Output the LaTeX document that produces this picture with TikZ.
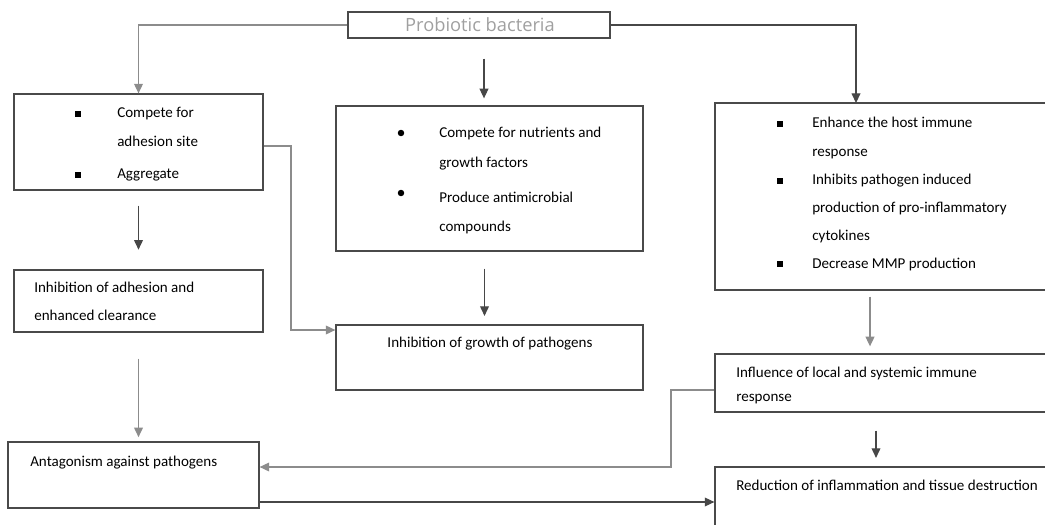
\documentclass[tikz,border=0pt]{standalone}
\usepackage{fontspec}
\setmainfont{Carlito}
\newfontfamily\titlefont{Open Sans}
\usetikzlibrary{
  arrows.meta,
  positioning,
  fit,
  calc,
}
\definecolor{frameGray}{HTML}{4A4A4A}
\definecolor{linkGray}{HTML}{8C8C8C}
\definecolor{titleGray}{HTML}{A0A0A0}
\tikzset{
  stepbox/.style={
    rectangle, draw=frameGray, line width=0.9pt, inner sep=0pt,
  },
  titlebox/.style={
    stepbox, font=\titlefont\fontsize{13}{15}\selectfont, text=titleGray,
  },
  itemtext/.style={
    anchor=base west, inner sep=0pt, font=\fontsize{10.7}{12}\selectfont,
  },
  sqbullet/.style={
    rectangle, fill=black, inner sep=0pt, minimum size=3.6pt,
  },
  rdbullet/.style={
    circle, fill=black, inner sep=0pt, minimum size=4.6pt,
  },
  arrowDark/.style={
    -{Triangle[length=2.4mm,width=2.2mm]}, line width=0.8pt, draw=black!72,
  },
  arrowGray/.style={
    -{Triangle[length=2.4mm,width=2.2mm]}, line width=0.9pt, draw=linkGray,
  },
}

\begin{document}
\begin{tikzpicture}[x=0.025cm, y=-0.025cm]

\useasboundingbox (0,0) rectangle (1045,525);
\clip (0,0) rectangle (1045,525);

% boxes (pixel grid of the figure)
\node[titlebox, fit={(348,12) (610,38)}] (probio) {};
\node[titlebox, draw=none, anchor=base] (probioText) at (480,32) {Probiotic bacteria};
\node[stepbox, fit={(14,94) (263,190)}] (adh) {};
\node[stepbox, fit={(336,106) (643,251)}] (nutr) {};
\node[stepbox, fit={(715,103) (1055,290)}] (host) {};
\node[stepbox, fit={(14,270) (263,332)}] (inhad) {};
\node[stepbox, fit={(336,325) (643,390)}] (growth) {};
\node[stepbox, fit={(715,354) (1055,412)}] (influ) {};
\node[stepbox, fit={(8,442) (259,508)}] (antag) {};
\node[stepbox, fit={(715,467) (1055,535)}] (reduc) {};

% bullet lists
\node[sqbullet] (adhB1) at (78,114) {};
\node[sqbullet] (adhB2) at (78,175) {};
\foreach \txt/\yy [count=\k] in {Compete for/118, adhesion site/147, Aggregate/179}
  \node[itemtext] (adh\k) at (117,\yy) {\txt};

\node[rdbullet] (nutrB1) at (401,133) {};
\node[rdbullet] (nutrB2) at (401,193) {};
\foreach \txt/\yy [count=\k] in {Compete for nutrients and/138, growth factors/167,
    Produce antimicrobial/203, compounds/231}
  \node[itemtext] (nutr\k) at (439,\yy) {\txt};

\node[sqbullet] (hostB1) at (780,124) {};
\node[sqbullet] (hostB2) at (780,181) {};
\node[sqbullet] (hostB3) at (780,264) {};
\foreach \txt/\yy [count=\k] in {Enhance the host immune/128, response/157,
    Inhibits pathogen induced/185, production of pro-inflammatory/212,
    cytokines/240, Decrease MMP production/268}
  \node[itemtext] (host\k) at (812,\yy) {\txt};

% outcome texts
\node[itemtext] (inhadA) at (34,292) {Inhibition of adhesion and};
\node[itemtext] (inhadB) at (34,320) {enhanced clearance};
\node[itemtext, anchor=base] (growthA) at (490,347) {Inhibition of growth of pathogens};
\node[itemtext] (influA) at (736,377) {Influence of local and systemic immune};
\node[itemtext] (influB) at (736,401) {response};
\node[itemtext] (antagA) at (30,466) {Antagonism against pathogens};
\node[itemtext] (reducA) at (736,490) {Reduction of inflammation and tissue destruction};

% connectors
\coordinate (hostIn) at (856,103);
\coordinate (adhOut) at (291,330);
\coordinate (influOut) at (671,467);
\coordinate (midDown) at ($(probio.south)+(5,20)$);
\coordinate (adhDown) at ($(adh.south)+(0,15)$);
\coordinate (nutrDown) at ($(nutr.south)+(-5,17)$);
\coordinate (inhadDown) at ($(inhad.south)+(0,26)$);
\coordinate (hostDown) at ($(host.south)+(-15,6)$);
\coordinate (influDown) at ($(influ.south)+(-9,18)$);

\draw[arrowGray] (probio.west) -| (adh.north);
\draw[arrowDark] (probio.east) -| (hostIn);
\draw[arrowDark, shorten >=5pt] (midDown) -- (midDown |- nutr.north);
\draw[arrowDark, shorten >=14pt] (adhDown) -- (adhDown |- inhad.north);
\draw[arrowGray] (adh.east |- 0,146) -| (adhOut) -- (adhOut -| growth.west);
\draw[arrowDark, shorten >=6pt] (nutrDown) -- (nutrDown |- growth.north);
\draw[arrowGray, shorten >=3pt] (inhadDown) -- (inhadDown |- antag.north);
\draw[arrowGray, shorten >=5pt] (hostDown) -- (hostDown |- influ.north);
\draw[arrowDark, shorten >=6pt] (influDown) -- (influDown |- reduc.north);
\draw[arrowGray] (influ.west |- 0,390) -| (influOut) -- (influOut -| antag.east);
\draw[arrowDark] (antag.east |- 0,502) -- (reduc.west |- 0,502);

\end{tikzpicture}
\end{document}
